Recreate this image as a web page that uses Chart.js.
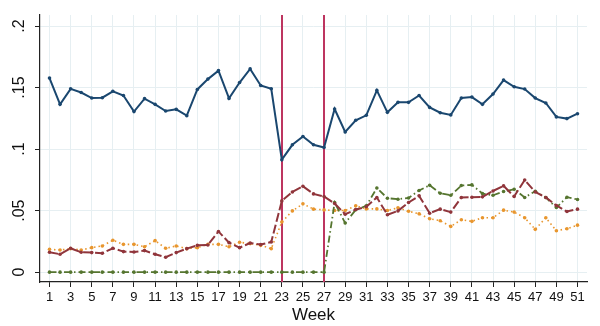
<!DOCTYPE html>
<html>
<head>
<meta charset="utf-8">
<script src="https://cdn.jsdelivr.net/npm/chart.js@4.4.1/dist/chart.umd.min.js"></script>
<style>
  html, body { margin: 0; padding: 0; background: #fff; }
  #wrap { width: 600px; height: 326px; }
</style>
</head>
<body>
<div id="wrap"><canvas id="weekChart"></canvas></div>
<script>
// weekly shares, weeks 1..51
const weeks = [];
for (let w = 1; w <= 51; w++) weeks.push(w);

const weekTicks = [1,3,5,7,9,11,13,15,17,19,21,23,25,27,29,31,33,35,37,39,41,43,45,47,49,51];
const shareTicks = [0, 0.05, 0.1, 0.15, 0.2];
const markerWeeks = [23, 27];

const navySeries = [0.1577,0.1364,0.149,0.146,0.1415,0.1418,0.147,0.1436,0.1305,0.141,
  0.1364,0.131,0.1323,0.1272,0.1485,0.1569,0.1638,0.1412,0.1541,0.1652,
  0.1517,0.149,0.0914,0.1035,0.1102,0.1035,0.1013,0.1326,0.114,0.1234,
  0.1275,0.1477,0.1299,0.138,0.138,0.1436,0.1339,0.1296,0.1278,0.1415,
  0.1423,0.1364,0.1448,0.1561,0.1507,0.1488,0.1415,0.1375,0.1262,0.1248,0.1288];

const maroonSeries = [0.0162,0.0146,0.0194,0.0162,0.0159,0.0154,0.0194,0.0167,0.0164,0.0175,
  0.0146,0.0121,0.0159,0.0191,0.0218,0.0221,0.0331,0.024,0.0199,0.0237,
  0.0224,0.0245,0.0579,0.0652,0.0698,0.0636,0.0615,0.0558,0.0471,0.0509,
  0.0531,0.0607,0.0466,0.0498,0.0566,0.062,0.0479,0.0512,0.0488,0.0607,
  0.0609,0.0612,0.066,0.0701,0.0615,0.0749,0.0652,0.0607,0.0542,0.0493,0.0512];

const orangeSeries = [0.0186,0.018,0.0191,0.018,0.0199,0.0213,0.0259,0.0226,0.0226,0.0207,
  0.0256,0.0194,0.0213,0.0191,0.0199,0.0226,0.0226,0.0207,0.0243,0.0232,
  0.0218,0.0191,0.0407,0.0498,0.0555,0.0512,0.0506,0.0501,0.0501,0.0539,
  0.0514,0.0514,0.0501,0.0523,0.0495,0.0474,0.0434,0.0418,0.0372,0.0426,
  0.0413,0.0442,0.0442,0.0504,0.0488,0.0442,0.0348,0.0442,0.0337,0.0353,0.0382];

const greenSeries = [0,0,0,0,0,0,0,0,0,0,
  0,0,0,0,0,0,0,0,0,0,
  0,0,0,0,0,0,0,0.0566,0.0399,0.0507,
  0.0539,0.0684,0.0601,0.0593,0.0603,0.0664,0.0706,0.0641,0.0625,0.0704,
  0.0709,0.0639,0.0625,0.0655,0.0674,0.0607,0.0658,0.0607,0.0525,0.0609,0.059];

function toPoints(values) {
    return values.map((v, i) => ({ x: weeks[i], y: v }));
}

function lineSet(values, color, width, dash) {
    return {
        data: toPoints(values),
        borderColor: color,
        backgroundColor: color,
        borderWidth: width,
        borderDash: dash,
        pointRadius: 1.8,
        pointBorderWidth: 0,
        pointHoverRadius: 0,
        tension: 0,
        fill: false
    };
}

function shareLabel(v) {
    return v === 0 ? '0' : String(+v.toFixed(2)).replace(/^0/, '');
}

// vertical reference lines at the given weeks
const weekLines = {
    id: 'weekLines',
    beforeDatasetsDraw(chart) {
        const ctx = chart.ctx;
        const area = chart.chartArea;
        const xs = chart.scales.x;
        ctx.save();
        ctx.strokeStyle = '#bd3560';
        ctx.lineWidth = 2;
        markerWeeks.forEach(w => {
            const px = Math.round(xs.getPixelForValue(w));
            ctx.beginPath();
            ctx.moveTo(px, area.top);
            ctx.lineTo(px, area.bottom);
            ctx.stroke();
        });
        ctx.restore();
    }
};

// y labels turned sideways, centred on their ticks
const sideLabels = {
    id: 'sideLabels',
    afterDraw(chart) {
        const ctx = chart.ctx;
        const ys = chart.scales.y;
        ctx.save();
        ctx.fillStyle = '#111';
        ctx.font = '16px "Liberation Sans", Arial';
        ctx.textAlign = 'center';
        ctx.textBaseline = 'middle';
        shareTicks.forEach(v => {
            ctx.save();
            ctx.translate(20, ys.getPixelForValue(v));
            ctx.rotate(-Math.PI / 2);
            ctx.fillText(shareLabel(v), 0, 0);
            ctx.restore();
        });
        ctx.restore();
    }
};

const ctx = document.getElementById('weekChart').getContext('2d');
new Chart(ctx, {
    type: 'line',
    data: {
        datasets: [
            lineSet(navySeries, '#1a476f', 2, []),
            lineSet(maroonSeries, '#90353b', 2, [9, 3]),
            lineSet(greenSeries, '#55752f', 1.8, [7, 3, 1.5, 3]),
            lineSet(orangeSeries, '#e8962e', 1.6, [1.5, 3])
        ]
    },
    options: {
        responsive: true,
        maintainAspectRatio: false,
        animation: false,
        events: [],
        layout: { padding: { top: 15, right: 13, left: 0, bottom: 0 } },
        plugins: {
            legend: { display: false },
            tooltip: { enabled: false }
        },
        scales: {
            x: {
                type: 'linear',
                min: 0.1,
                max: 51.9,
                afterBuildTicks: scale => { scale.ticks = weekTicks.map(v => ({ value: v })); },
                afterFit: scale => { scale.height = 44; },
                grid: { color: '#e6eff2', lineWidth: 1, tickColor: '#222', tickLength: 5, drawTicks: true },
                border: { display: true, color: '#222', width: 1.2 },
                ticks: {
                    color: '#111',
                    font: { family: 'Liberation Sans, Arial', size: 13 },
                    padding: 3,
                    maxRotation: 0,
                    autoSkip: false,
                    callback: v => String(v)
                },
                title: {
                    display: true,
                    text: 'Week',
                    color: '#111',
                    font: { family: 'Liberation Sans, Arial', size: 17 },
                    padding: { top: 0, bottom: 0 }
                }
            },
            y: {
                min: -0.008,
                max: 0.209,
                afterBuildTicks: scale => { scale.ticks = shareTicks.map(v => ({ value: v })); },
                afterFit: scale => { scale.width = 40; },
                grid: { color: '#e6eff2', lineWidth: 1, tickColor: '#222', tickLength: 5, drawTicks: true },
                border: { display: true, color: '#222', width: 1.2 },
                ticks: { display: false }
            }
        }
    },
    plugins: [weekLines, sideLabels]
});
</script>
</body>
</html>
